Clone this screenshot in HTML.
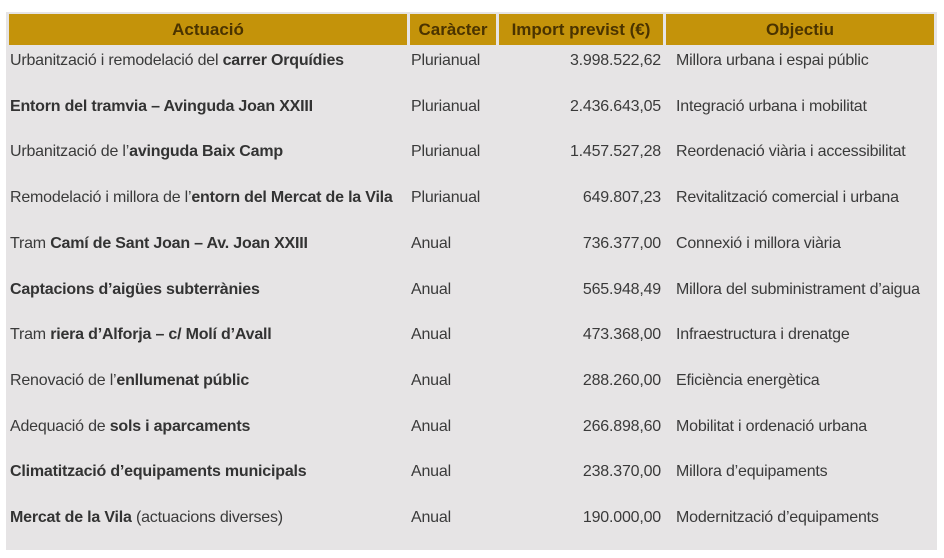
<!DOCTYPE html>
<html><head><meta charset="utf-8"><style>
body{margin:0;width:944px;height:558px;background:#fff;font-family:"Liberation Sans",sans-serif;position:relative;overflow:hidden}
.bg{position:absolute;left:6px;top:12px;width:931px;height:538px;background:#e6e4e5}
.h{position:absolute;top:14px;height:31px;background:#c4930a;color:#4a3300;font-weight:bold;font-size:17px;line-height:31px;text-align:center}
.r{position:absolute;font-size:16px;color:#3a3a3a;line-height:20px;white-space:nowrap;letter-spacing:-0.2px}
b{color:#333}
</style></head><body>
<div class="bg"></div>
<div class="h" style="left:9px;width:398px">Actuació</div>
<div class="h" style="left:410px;width:86px">Caràcter</div>
<div class="h" style="left:499px;width:164px">Import previst (€)</div>
<div class="h" style="left:666px;width:268px">Objectiu</div>
<div id="rows"></div>
<script>
var d=[
["Urbanització i remodelació del <b>carrer Orquídies</b>","Plurianual","3.998.522,62","Millora urbana i espai públic"],
["<b>Entorn del tramvia – Avinguda Joan XXIII</b>","Plurianual","2.436.643,05","Integració urbana i mobilitat"],
["Urbanització de l’<b>avinguda Baix Camp</b>","Plurianual","1.457.527,28","Reordenació viària i accessibilitat"],
["Remodelació i millora de l’<b>entorn del Mercat de la Vila</b>","Plurianual","649.807,23","Revitalització comercial i urbana"],
["Tram <b>Camí de Sant Joan – Av. Joan XXIII</b>","Anual","736.377,00","Connexió i millora viària"],
["<b>Captacions d’aigües subterrànies</b>","Anual","565.948,49","Millora del subministrament d’aigua"],
["Tram <b>riera d’Alforja – c/ Molí d’Avall</b>","Anual","473.368,00","Infraestructura i drenatge"],
["Renovació de l’<b>enllumenat públic</b>","Anual","288.260,00","Eficiència energètica"],
["Adequació de <b>sols i aparcaments</b>","Anual","266.898,60","Mobilitat i ordenació urbana"],
["<b>Climatització d’equipaments municipals</b>","Anual","238.370,00","Millora d’equipaments"],
["<b>Mercat de la Vila</b> (actuacions diverses)","Anual","190.000,00","Modernització d’equipaments"]];
var h="";
d.forEach(function(r,i){var y=51+i*45.7;
h+='<div class="r" style="left:10px;top:'+y+'px;width:398px;overflow:hidden">'+r[0]+'</div>';
h+='<div class="r" style="left:411px;top:'+y+'px">'+r[1]+'</div>';
h+='<div class="r" style="left:500px;top:'+y+'px;width:161px;text-align:right">'+r[2]+'</div>';
h+='<div class="r" style="left:676px;top:'+y+'px;width:258px;overflow:hidden">'+r[3]+'</div>';});
document.getElementById("rows").innerHTML=h;
</script>
</body></html>
